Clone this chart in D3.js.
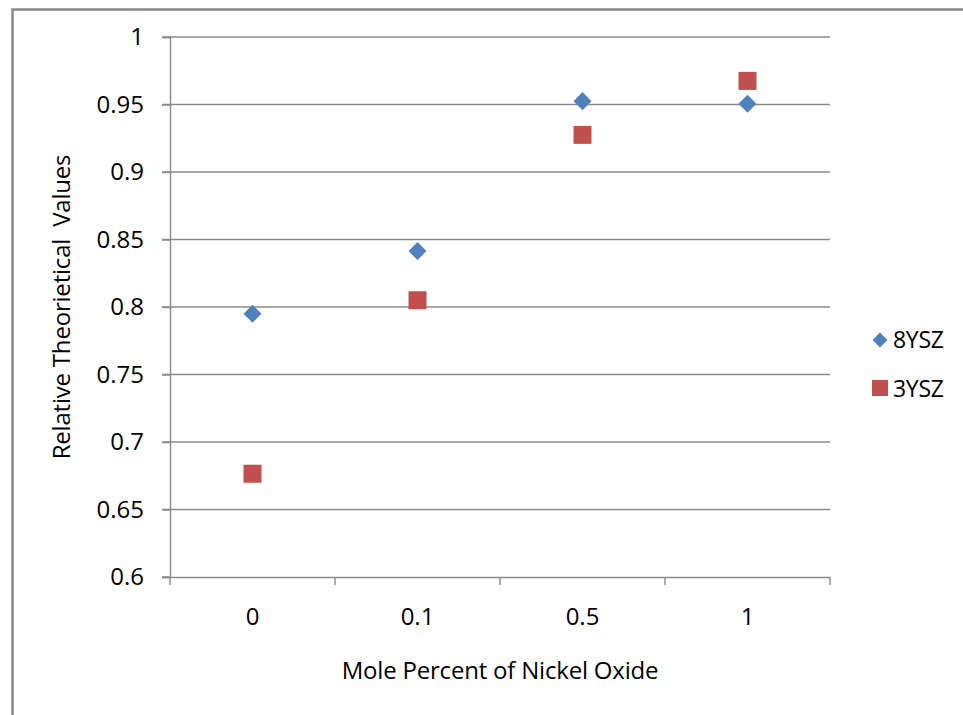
<!DOCTYPE html>
<html>
<head>
<meta charset="utf-8">
<script src="https://cdn.jsdelivr.net/npm/d3@7"></script>
<style>
  html, body { margin: 0; padding: 0; background: #fff; }
  svg { display: block; }
  text { font-family: "Open Sans", "Liberation Sans", sans-serif; fill: #000; }
</style>
</head>
<body>
<svg id="chart" width="963" height="715"></svg>
<script>
// Mole percent of nickel oxide (categories on the x axis)
const categories = ["0", "0.1", "0.5", "1"];
// Relative theoretical density for each zirconia grade
const series8YSZ = [0.795, 0.8415, 0.9525, 0.9505];
const series3YSZ = [0.6765, 0.805, 0.9275, 0.9675];
const yTicks = [0.6, 0.65, 0.7, 0.75, 0.8, 0.85, 0.9, 0.95, 1];
const seriesNames = ["8YSZ", "3YSZ"];

const svg = d3.select("#chart");
const W = 963, H = 715;

// chart frame
svg.append("rect")
  .attr("x", 12.5).attr("y", 9.5)
  .attr("width", W + 20).attr("height", H + 20)
  .attr("fill", "#fff").attr("stroke", "#878787").attr("stroke-width", 2.5);

const plot = { left: 170, right: 830, top: 37, bottom: 577 };

const x = d3.scaleBand().domain(categories).range([plot.left, plot.right]).padding(0);
const y = d3.scaleLinear().domain([0.6, 1]).range([plot.bottom, plot.top]);

const grid = "#8a8a8a";

// horizontal gridlines
svg.append("g")
  .selectAll("line").data(yTicks.slice(1)).join("line")
  .attr("x1", plot.left - 8).attr("x2", plot.right)
  .attr("y1", d => y(d)).attr("y2", d => y(d))
  .attr("stroke", grid).attr("stroke-width", 1.4);

// y axis
const yAxis = svg.append("g")
  .attr("transform", `translate(${plot.left},0)`)
  .call(d3.axisLeft(y).tickValues(yTicks).tickFormat(d3.format("")).tickSize(8).tickPadding(18));
yAxis.select(".domain").attr("stroke", grid).attr("stroke-width", 1.4);
yAxis.selectAll(".tick line").attr("stroke", grid).attr("stroke-width", 1.4);
yAxis.selectAll(".tick text").style("font-size", "24px").attr("fill", "#000");

// x axis with tick marks at category boundaries
const xAxis = svg.append("g")
  .attr("transform", `translate(0,${plot.bottom})`)
  .call(d3.axisBottom(x).tickSize(0).tickPadding(31));
xAxis.select(".domain").attr("stroke", grid).attr("stroke-width", 1.4);
xAxis.selectAll(".tick text").style("font-size", "24px").attr("fill", "#000");
const bounds = categories.map(c => x(c)).concat([x(categories[categories.length - 1]) + x.bandwidth()]);
svg.append("g").selectAll("line").data(bounds).join("line")
  .attr("x1", d => d).attr("x2", d => d)
  .attr("y1", plot.bottom).attr("y2", plot.bottom + 8)
  .attr("stroke", grid).attr("stroke-width", 1.4);
// left edge of x axis extends to the y tick length
svg.append("line")
  .attr("x1", plot.left - 8).attr("x2", plot.left)
  .attr("y1", plot.bottom).attr("y2", plot.bottom)
  .attr("stroke", grid).attr("stroke-width", 1.4);

const cx = c => x(c) + x.bandwidth() / 2;
const blue = "#4F81BD", red = "#C0504D";
const diamond = d3.symbol().type(d3.symbolSquare).size(162);

// 8YSZ diamonds
svg.append("g").selectAll("path").data(series8YSZ).join("path")
  .attr("d", diamond)
  .attr("transform", (d, i) => `translate(${cx(categories[i])},${y(d)}) rotate(45)`)
  .attr("fill", blue);

// 3YSZ squares
svg.append("g").selectAll("rect").data(series3YSZ).join("rect")
  .attr("x", (d, i) => cx(categories[i]) - 9)
  .attr("y", d => y(d) - 9)
  .attr("width", 18).attr("height", 18)
  .attr("fill", red);

// axis titles
svg.append("text")
  .attr("x", 500).attr("y", 679)
  .attr("text-anchor", "middle")
  .style("font-size", "24px").style("letter-spacing", "-0.2px")
  .text("Mole Percent of Nickel Oxide");

svg.append("text")
  .attr("transform", "translate(70,307) rotate(-90)")
  .attr("text-anchor", "middle")
  .style("font-size", "24px").style("letter-spacing", "-0.2px")
  .style("white-space", "pre")
  .text("Relative Theorietical  Values");

// legend
const legend = svg.append("g");
legend.append("path")
  .attr("d", d3.symbol().type(d3.symbolSquare).size(110))
  .attr("transform", "translate(880,340) rotate(45)")
  .attr("fill", blue);
legend.append("rect")
  .attr("x", 872).attr("y", 380).attr("width", 16).attr("height", 16)
  .attr("fill", red);
legend.selectAll("text").data(seriesNames).join("text")
  .attr("x", 893).attr("y", (d, i) => 348 + i * 49)
  .style("font-size", "23px").style("letter-spacing", "-0.3px")
  .text(d => d);
</script>
</body>
</html>
